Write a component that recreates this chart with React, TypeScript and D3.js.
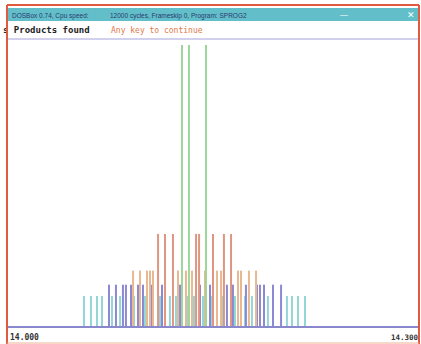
import React from "react";
import * as d3 from "d3";

const W = 421;
const H = 344;

const xTickLabels = ["14.000", "14.300"];
const xDomain = [14.0, 14.3];

const greenPeaks = [14.1273, 14.1324, 14.1449];
const greenHeights = [100, 100, 100];

const redPeaks = [14.1098, 14.1149, 14.1207, 14.1376, 14.1398, 14.15, 14.158, 14.1632];
const redHeights = [33, 33, 33, 33, 33, 33, 33, 33];

const orangePeaks = [14.0915, 14.0966, 14.1017, 14.1039, 14.1061, 14.1244, 14.1302, 14.1346, 14.1441, 14.1529, 14.1559, 14.1683, 14.1705, 14.1763, 14.1815];
const orangeHeights = [20, 20, 20, 20, 20, 20, 20, 20, 20, 20, 20, 20, 20, 20, 20];

const purplePeaks = [14.0739, 14.079, 14.0841, 14.0863, 14.09, 14.0951, 14.0988, 14.1054, 14.1127, 14.1259, 14.1405, 14.1478, 14.1602, 14.1646, 14.1741, 14.1822, 14.1844, 14.1873, 14.1939, 14.1998];
const purpleHeights = [15, 15, 15, 15, 15, 15, 15, 15, 15, 15, 15, 15, 15, 15, 15, 15, 15, 15, 15, 15];

const cyanPeaks = [14.0556, 14.0607, 14.0651, 14.0688, 14.0761, 14.082, 14.0922, 14.1002, 14.1112, 14.1185, 14.1229, 14.131, 14.1361, 14.1427, 14.1493, 14.1566, 14.1661, 14.1734, 14.1785, 14.1902, 14.2041, 14.2078, 14.2122, 14.2173];
const cyanHeights = [11, 11, 11, 11, 11, 11, 11, 11, 11, 11, 11, 11, 11, 11, 11, 11, 11, 11, 11, 11, 11, 11, 11, 11];

const series = [
  { name: "cyan", peaks: cyanPeaks, heights: cyanHeights, color: "#93d6d8" },
  { name: "purple", peaks: purplePeaks, heights: purpleHeights, color: "#8c88d2" },
  { name: "orange", peaks: orangePeaks, heights: orangeHeights, color: "#e8b890" },
  { name: "red", peaks: redPeaks, heights: redHeights, color: "#df9580" },
  { name: "green", peaks: greenPeaks, heights: greenHeights, color: "#9dd59a" },
];

export default function App() {
  const x = d3.scaleLinear().domain(xDomain).range([8, 418]);
  const y = d3.scaleLinear().domain([0, 100]).range([327, 45]);
  const mono = "'DejaVu Sans Mono', 'Liberation Mono', monospace";

  return (
    <svg width={W} height={H} style={{ position: "absolute", left: 0, top: 0, background: "#fff" }}>
      <rect x={0} y={0} width={W} height={H} fill="#ffffff" />
      {/* title bar */}
      <rect x={8} y={8} width={410} height={13} fill="#62bfc9" />
      <text x={12} y={17.5} fontSize={6.5} fill="#2a3a70" fontFamily="'Liberation Sans', Arial, sans-serif">
        DOSBox 0.74, Cpu speed:
      </text>
      <text x={110} y={17.5} fontSize={6.5} fill="#2a3a70" fontFamily="'Liberation Sans', Arial, sans-serif">
        12000 cycles, Frameskip  0, Program:   SPROG2
      </text>
      <text x={340} y={17} fontSize={8} fill="#ffffff" fontFamily="'Liberation Sans', Arial, sans-serif">—</text>
      <text x={407} y={18} fontSize={9} fill="#ffffff" fontFamily="'Liberation Sans', Arial, sans-serif">✕</text>
      {/* status line */}
      <text x={3} y={33} fontSize={9} fontWeight="bold" fill="#222" fontFamily={mono}>
        s Products found
      </text>
      <text x={111} y={33} fontSize={8} fill="#e07a4a" fontFamily={mono}>
        Any key to continue
      </text>
      <line x1={8} x2={418} y1={39} y2={39} stroke="#a6a4dc" strokeWidth={1.2} />
      {/* peaks */}
      {series.map((s) =>
        s.peaks.map((p, i) => (
          <line
            key={s.name + i}
            x1={x(p)}
            x2={x(p)}
            y1={y(0)}
            y2={y(s.heights[i])}
            stroke={s.color}
            strokeWidth={2}
          />
        ))
      )}
      {/* baseline */}
      <line x1={8} x2={418} y1={y(0)} y2={y(0)} stroke="#8a88cc" strokeWidth={2} />
      {/* tick labels */}
      <text x={10} y={340} fontSize={8} fontWeight="bold" fill="#333" fontFamily={mono}>
        {xTickLabels[0]}
      </text>
      <text x={418} y={340} textAnchor="end" fontSize={7.5} fontWeight="bold" fill="#333" fontFamily={mono}>
        {xTickLabels[1]}
      </text>
      {/* photo border */}
      <line x1={7} x2={7} y1={5} y2={H} stroke="#e05a40" strokeWidth={2} />
      <line x1={7} x2={419} y1={5} y2={5} stroke="#e05a40" strokeWidth={2} />
      <line x1={419} x2={419} y1={5} y2={H} stroke="#e05a40" strokeWidth={2} />
      <line x1={7} x2={419} y1={343} y2={343} stroke="#f0b090" strokeWidth={1} />
    </svg>
  );
}
